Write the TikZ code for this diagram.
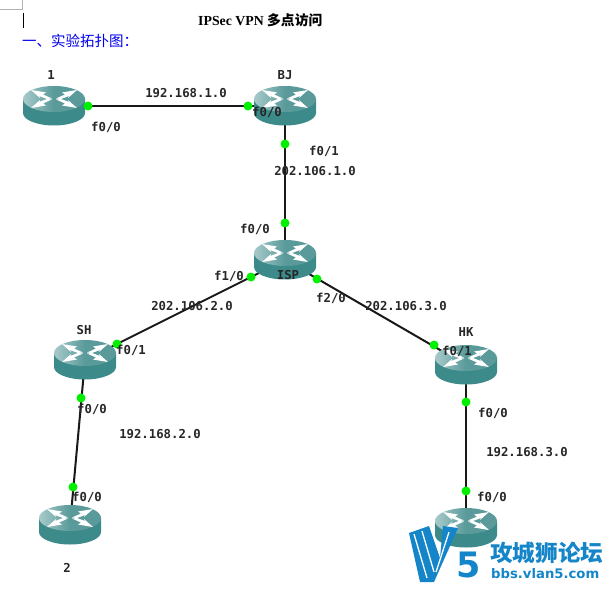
\documentclass[tikz,border=0pt]{standalone}
\usepackage{fontspec}
\setmainfont{Liberation Serif}
\newfontfamily\lblfont{DejaVu Sans Mono}
\newfontfamily\cjkfont{Noto Sans CJK SC}
\newfontfamily\wmfont{DejaVu Sans}
\usetikzlibrary{calc}
\definecolor{rbody}{HTML}{3D8A8A}
\definecolor{rtop}{HTML}{5A9A9A}
\definecolor{rlight}{HTML}{A8CACA}
\definecolor{dotgreen}{HTML}{00F000}
\definecolor{wmblue}{HTML}{1485C8}
\definecolor{headblue}{HTML}{0000F0}
\newcommand{\routerart}{%
  \fill[rbody] (-31,-7) -- (-31,7) arc[start angle=180,end angle=0,x radius=31,y radius=12.5] -- (31,-7) -- cycle;
  \shade[left color=rlight,right color=rtop,middle color=rtop] (0,-7) ellipse[x radius=31,y radius=13];
  \foreach \s/\t in {1/1,-1/1,1/-1,-1/-1}{
    \fill[white] (\s*2,\t*0.5-7) -- (\s*11,\t*4.5-7) -- (\s*8,\t*6.5-7) -- (\s*23,\t*9-7) -- (\s*14,\t*1-7) -- (\s*15,\t*3-7) -- (\s*7,\t*0-7) -- cycle;
  }
}
\tikzset{
  x=1pt,y=-1pt,
  routerbox/.style={inner sep=0pt,minimum width=62pt,minimum height=40pt,path picture={\routerart}},
  link/.style={draw=black!90,line width=2pt},
  portdot/.style={circle,fill=dotgreen,inner sep=0pt,minimum size=9pt},
  lbl/.style={font=\lblfont\bfseries\fontsize{12.3}{14}\selectfont,inner sep=0pt,text=black!85},
}
\begin{document}
\begin{tikzpicture}
\useasboundingbox[fill=white] (0,0) rectangle (609,588);
% page furniture
\draw[gray!60,line width=0.8pt] (0,9) -- (22,9) -- (22,0);
\draw[black,line width=0.9pt] (23,13) -- (23,28);
\node[inner sep=0pt,anchor=west] (title) at (198,20) {\bfseries\fontsize{13.8}{15}\selectfont IPSec VPN {\cjkfont 多点访问}};
\node[inner sep=0pt,anchor=west,text=headblue] (head) at (22,41) {\cjkfont\fontsize{14.5}{16}\selectfont 一、实验拓扑图：};
% named anchors for routers
\coordinate (r1) at (54,106);
\coordinate (bj) at (285,106);
\coordinate (isp) at (285,260);
\coordinate (sh) at (85,360);
\coordinate (hk) at (466,365);
\coordinate (r2) at (70,525);
\coordinate (r3) at (466,528);
% connectors
\draw[link] (r1) -- (bj);
\draw[link] (bj) -- (isp);
\draw[link] (isp) -- (sh);
\draw[link] (isp) -- (hk);
\draw[link] (sh) -- (r2);
\draw[link] (hk) -- (r3);
% routers
\begin{scope}
\clip (23,80) rectangle (100,130);
\node[routerbox] (nr1) at (r1) {};
\end{scope}
\node[routerbox] (nbj) at (bj) {};
\node[routerbox] (nisp) at (isp) {};
\node[routerbox] (nsh) at (sh) {};
\node[routerbox] (nhk) at (hk) {};
\node[routerbox] (nr2) at (r2) {};
\node[routerbox] (nr3) at (r3) {};
% port dots
\foreach \n/\p in {a/{88,106},b/{248,106},c/{285,144},d/{285,223},e/{251,277},f/{117,344},g/{317,279},h/{434,345},i/{81,398},j/{73,487},k/{466,402},l/{466,491}}{
  \node[portdot] (dot\n) at (\p) {};
}
% labels
\node[lbl] (l1) at (51,75) {1};
\node[lbl] (lbj) at (285,75) {BJ};
\node[lbl] (lisp) at (288,275) {ISP};
\node[lbl] (lsh) at (84,330) {SH};
\node[lbl] (lhk) at (466,332) {HK};
\node[lbl] (l2) at (67,568) {2};
\node[lbl] (n1) at (186,93) {192.168.1.0};
\node[lbl] (n2) at (315,171) {202.106.1.0};
\node[lbl] (n3) at (192,306) {202.106.2.0};
\node[lbl] (n4) at (406,306) {202.106.3.0};
\node[lbl] (n5) at (160,434) {192.168.2.0};
\node[lbl] (n6) at (527,452) {192.168.3.0};
\node[lbl] (p1) at (106,127) {f0/0};
\node[lbl] (p2) at (267,112) {f0/0};
\node[lbl] (p3) at (324,151) {f0/1};
\node[lbl] (p4) at (255,229) {f0/0};
\node[lbl] (p5) at (229,276) {f1/0};
\node[lbl] (p6) at (331,298) {f2/0};
\node[lbl] (p7) at (131,350) {f0/1};
\node[lbl] (p8) at (457,351) {f0/1};
\node[lbl] (p9) at (92,409) {f0/0};
\node[lbl] (p10) at (87,497) {f0/0};
\node[lbl] (p11) at (493,413) {f0/0};
\node[lbl] (p12) at (492,497) {f0/0};
% watermark
\fill[wmblue] (409,533) -- (429,526) -- (440,558) -- (443,526) -- (458,528) -- (434,582) -- (420,582) -- cycle;
\draw[white,line width=1.3pt] (414,534) -- (427,578);
\draw[white,line width=1.3pt] (422,531) -- (434,572);
\draw[white,line width=1.3pt] (449,532) -- (436,572);
\node[inner sep=0pt,text=wmblue] (wm5) at (469,565) {\wmfont\bfseries\fontsize{35}{35}\selectfont 5};
\node[inner sep=0pt,anchor=west,text=wmblue] (wmcn) at (490,553) {\cjkfont\bfseries\fontsize{22.6}{24}\selectfont 攻城狮论坛};
\node[inner sep=0pt,anchor=west,text=wmblue] (wmurl) at (491,574) {\wmfont\bfseries\fontsize{13.2}{14}\selectfont bbs.vlan5.com};
\end{tikzpicture}
\end{document}
